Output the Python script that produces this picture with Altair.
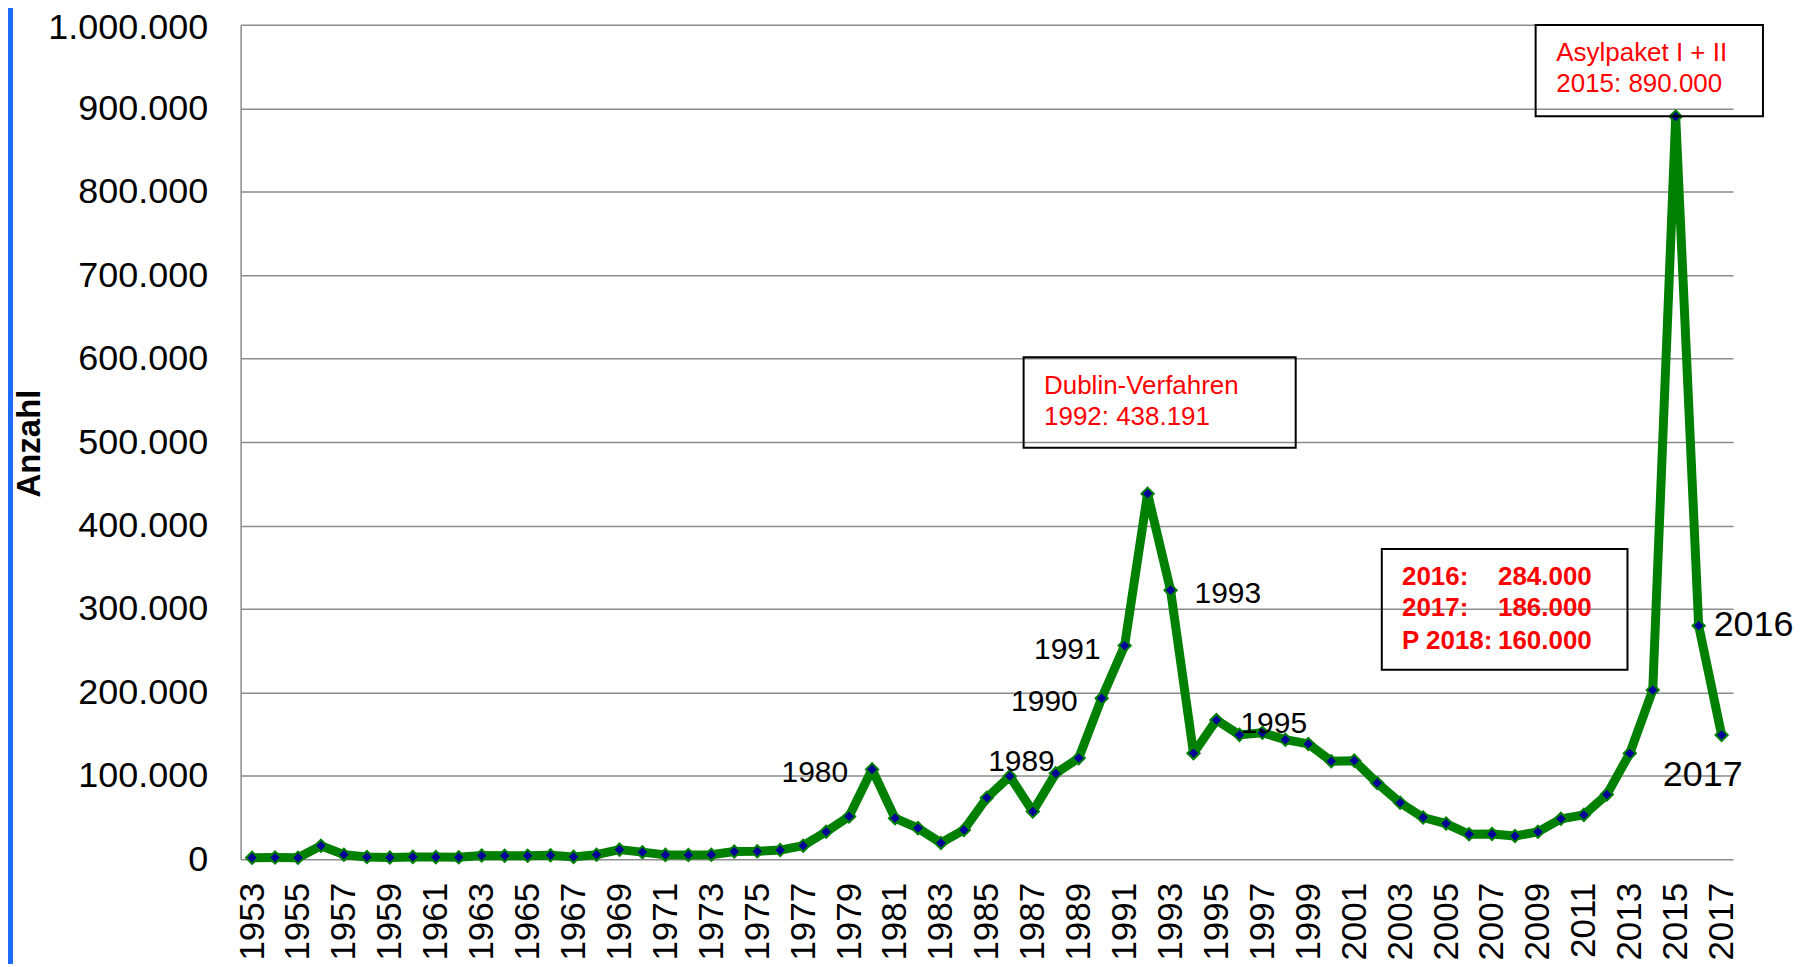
import altair as alt
import pandas as pd

# ---------------- data ----------------
years = list(range(1953, 2018))
values = [1906, 2174, 1926, 16284, 5622, 2785, 2267, 2980, 2722, 2550,
          4542, 4337, 4337, 4868, 2992, 5608, 11664, 8645, 5388, 5289,
          5595, 9424, 9627, 11123, 16410, 33136, 51493, 107818, 49391, 37423,
          19737, 35278, 73832, 99650, 57379, 103076, 121318, 193063, 256112, 438191,
          322599, 127210, 166951, 149193, 151700, 143429, 138319, 117648, 118306, 91471,
          67848, 50152, 42908, 30100, 30303, 28018, 33033, 48589, 53347, 77651,
          127023, 202834, 890000, 280000, 149000]

x_tick_years = list(range(1953, 2018, 2))
y_ticks = list(range(0, 1000001, 100000))

left_label_years = [1980, 1989, 1990, 1991]
right_label_years = [1993, 1995]
label_2016 = [2016]
label_2017 = [2017]

# annotation boxes (data units)
box_x1 = [1986.6, 2008.9, 2002.2]
box_x2 = [1998.45, 2018.8, 2012.9]
box_y1 = [601700, 999600, 372000]
box_y2 = [493200, 890300, 227300]

# red annotation texts (regular)
note_text = ["Dublin-Verfahren", "1992: 438.191", "Asylpaket I + II", "2015: 890.000"]
note_x = [1987.49, 1987.49, 2009.8, 2009.8]
note_y = [566990, 529900, 966150, 928830]

# red bold annotation texts
bold_labels = ["2016:", "2017:", "P 2018:"]
bold_values = ["284.000", "186.000", "160.000"]
bold_label_x = [2003.08, 2003.08, 2003.08]
bold_value_x = [2007.26, 2007.26, 2007.26]
bold_y = [338160, 300600, 261720]

FONT = "Liberation Sans"
GRID = "#8C8C8C"

df = pd.DataFrame({"Jahr": years, "Anzahl": values})

x_scale = alt.Scale(domain=[1952.5, 2017.5], nice=False, zero=False)
y_scale = alt.Scale(domain=[0, 1000000], nice=False, zero=True)

x_enc = alt.X("Jahr:Q", scale=x_scale,
              axis=alt.Axis(values=x_tick_years, format="d", labelAngle=270,
                            labelFontSize=35, labelFont=FONT, labelColor="black",
                            labelPadding=23, ticks=False, domain=False, grid=False,
                            title=None, labelOverlap=False, labelFlush=False))
y_enc = alt.Y("Anzahl:Q", scale=y_scale,
              axis=alt.Axis(values=y_ticks,
                            labelExpr="replace(format(datum.value, ','), regexp(',', 'g'), '.')",
                            labelFontSize=36, labelFont=FONT, labelColor="black",
                            labelPadding=33, ticks=False, domain=True,
                            labelOffset={"condition": {"test": "datum.value >= 1000000",
                                                       "value": 3},
                                         "value": 0},
                            domainColor=GRID, domainWidth=1.5,
                            grid=True, gridColor=GRID, gridWidth=1.5,
                            labelOverlap=False, labelFlush=False,
                            title="Anzahl", titleFont=FONT, titleFontSize=33,
                            titleFontWeight="bold", titleColor="black",
                            titleAngle=270, titleX=-211, titleY=419,
                            titleAlign="center", titleBaseline="middle"))

base = alt.Chart(df)

line = base.mark_line(color="#008000", strokeWidth=9, strokeJoin="round").encode(
    x=x_enc, y=y_enc)

points = base.mark_point(shape="diamond", filled=True, fill="#000099",
                         stroke="#008000", strokeWidth=2, size=150,
                         opacity=1).encode(x="Jahr:Q", y="Anzahl:Q")


def year_labels(sel, **kw):
    return base.transform_filter(
        alt.FieldOneOfPredicate(field="Jahr", oneOf=sel)
    ).mark_text(font=FONT, color="black", **kw).encode(
        x="Jahr:Q", y="Anzahl:Q",
        text=alt.Text("Jahr:Q", format="d"))


lab_left = year_labels(left_label_years, align="right", baseline="middle",
                       fontSize=30, dx=-24, dy=4)
lab_right = year_labels(right_label_years, align="left", baseline="middle",
                        fontSize=30, dx=24, dy=4)
lab_2016 = year_labels(label_2016, align="left", baseline="middle",
                       fontSize=36, dx=15, dy=-1)
lab_2017 = year_labels(label_2017, align="center", baseline="middle",
                       fontSize=36, dx=-19, dy=40)

boxes = alt.Chart(pd.DataFrame({"x1": box_x1, "x2": box_x2,
                                "y1": box_y1, "y2": box_y2})).mark_rect(
    fillOpacity=0, stroke="black", strokeWidth=2).encode(
    x="x1:Q", x2="x2:Q", y="y1:Q", y2="y2:Q")

notes = alt.Chart(pd.DataFrame({"x": note_x, "y": note_y, "t": note_text})).mark_text(
    align="left", baseline="middle", font=FONT, fontSize=26, color="#FF0000").encode(
    x="x:Q", y="y:Q", text="t:N")

bold_df = pd.DataFrame({"lx": bold_label_x, "vx": bold_value_x, "y": bold_y,
                        "l": bold_labels, "v": bold_values})
bold_l = alt.Chart(bold_df).mark_text(
    align="left", baseline="middle", font=FONT, fontSize=26, fontWeight="bold",
    color="#FF0000").encode(x="lx:Q", y="y:Q", text="l:N")
bold_v = alt.Chart(bold_df).mark_text(
    align="left", baseline="middle", font=FONT, fontSize=26, fontWeight="bold",
    color="#FF0000").encode(x="vx:Q", y="y:Q", text="v:N")

edge = alt.Chart(pd.DataFrame({"edge": [0]})).mark_rule(
    color="#1F6BFF", strokeWidth=5).encode(
    x=alt.value(-230.5), y=alt.value(-40), y2=alt.value(980))

chart = alt.layer(
    line, points, lab_left, lab_right, lab_2016, lab_2017,
    boxes, notes, bold_l, bold_v, edge
).properties(
    width=1495, height=836,
    padding={"left": 233, "top": 16, "right": 63, "bottom": 104},
    autosize=alt.AutoSizeParams(type="none"),
    background="white"
).configure_view(stroke=None)

chart.save("out.html", embed_options={"renderer": "svg", "actions": False})
